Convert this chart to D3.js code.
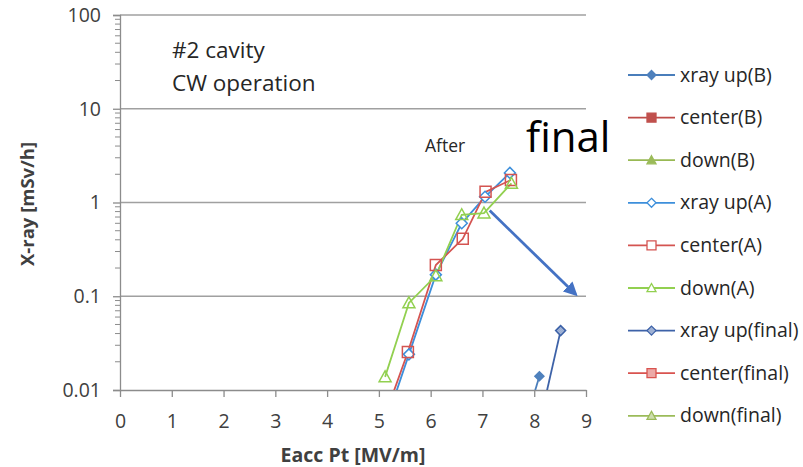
<!DOCTYPE html>
<html><head><meta charset="utf-8">
<script src="https://cdn.jsdelivr.net/npm/d3@7"></script>
<style>body{margin:0;background:#fff}svg{display:block;font-family:"Open Sans",Lato,sans-serif;font-variant-ligatures:none}</style>
</head><body><svg id="c" width="803" height="467"></svg>
<script>
// ---- data ----
const xTicks = [0,1,2,3,4,5,6,7,8,9];
const yTicks = [0.01,0.1,1,10,100];
const yTickLabels = ["0.01","0.1","1","10","100"];
const seriesNames = ["xray up(B)","center(B)","down(B)","xray up(A)","center(A)","down(A)","xray up(final)","center(final)","down(final)"];
const xrayUpB_x = [7.9, 8.1];
const xrayUpB_y = [0.006, 0.014];
const centerB_x = [];
const centerB_y = [];
const downB_x = [];
const downB_y = [];
const xrayUpA_x = [5.0, 5.58, 6.1, 6.6, 7.05, 7.53];
const xrayUpA_y = [0.0027, 0.024, 0.17, 0.6, 1.15, 2.07];
const centerA_x = [5.0, 5.56, 6.1, 6.62, 7.06, 7.55];
const centerA_y = [0.0035, 0.0254, 0.215, 0.41, 1.3, 1.74];
const downA_x = [5.12, 5.58, 6.1, 6.6, 7.03, 7.56];
const downA_y = [0.0138, 0.085, 0.165, 0.74, 0.77, 1.6];
const xrayUpF_x = [8.2, 8.51];
const xrayUpF_y = [0.0076, 0.043];
const centerF_x = [];
const centerF_y = [];
const downF_x = [];
const downF_y = [];

const svg = d3.select("#c");
const x = d3.scaleLinear().domain([0,9]).range([120,586]);
const y = d3.scaleLog().domain([0.01,100]).range([390,15]);

// patterns
const defs = svg.append("defs");
function checker(id, c){
  const p = defs.append("pattern").attr("id",id).attr("width",2).attr("height",2).attr("patternUnits","userSpaceOnUse");
  p.append("rect").attr("width",2).attr("height",2).attr("fill","#fff");
  p.append("rect").attr("width",1).attr("height",1).attr("fill",c);
  p.append("rect").attr("x",1).attr("y",1).attr("width",1).attr("height",1).attr("fill",c);
}
checker("chkB","#3d62a8");
checker("chkR","#d9534f");
checker("chkG","#9bbb59");
defs.append("clipPath").attr("id","clip").append("rect").attr("x",120).attr("y",10).attr("width",470).attr("height",380);
defs.append("marker").attr("id","arr").attr("viewBox","0 0 10 10").attr("refX",8).attr("refY",5)
  .attr("markerWidth",5).attr("markerHeight",5).attr("orient","auto")
  .append("path").attr("d","M0,0L10,5L0,10z").attr("fill","#4472c4");

// gridlines
const gridVals = [0.1,1,10,100];
svg.append("g").selectAll("line").data(gridVals).join("line")
  .attr("x1",120).attr("x2",586).attr("y1",d=>y(d)).attr("y2",d=>y(d))
  .attr("stroke","#a0a0a0").attr("stroke-width",1.5);

// y axis
const minor = [];
for (let e=-2;e<2;e++) for (let k=2;k<=9;k++) minor.push(k*Math.pow(10,e));
const ya = svg.append("g").attr("transform","translate(120,0)")
  .call(d3.axisLeft(y).tickValues(yTicks).tickFormat((d,i)=>yTickLabels[i]).tickSize(7).tickPadding(12));
ya.select(".domain").attr("stroke","#8c8c8c").attr("stroke-width",1.3);
ya.selectAll(".tick line").attr("stroke","#8c8c8c").attr("stroke-width",1.3);
ya.selectAll("text").attr("fill","#404040").style("font-size","19.5px").style("font-family","Open Sans");
svg.append("g").selectAll("line").data(minor).join("line")
  .attr("x1",115).attr("x2",120).attr("y1",d=>y(d)).attr("y2",d=>y(d))
  .attr("stroke","#8c8c8c").attr("stroke-width",1);

// x axis
const xa = svg.append("g").attr("transform","translate(0,390)")
  .call(d3.axisBottom(x).tickValues(xTicks).tickFormat(d3.format("d")).tickSize(7).tickSizeOuter(0).tickPadding(17));
xa.select(".domain").attr("stroke","#8c8c8c").attr("stroke-width",1.3);
xa.selectAll(".tick line").attr("stroke","#8c8c8c").attr("stroke-width",1.3);
xa.selectAll("text").attr("fill","#404040").style("font-size","19.5px").style("font-family","Open Sans");

// axis titles
svg.append("text").attr("x",353).attr("y",462).attr("text-anchor","middle")
  .style("font-size","19.5px").style("font-weight","bold").attr("fill","#404040").text("Eacc Pt [MV/m]");
svg.append("text").attr("transform","translate(34,204) rotate(-90)").attr("text-anchor","middle")
  .style("font-size","18.5px").style("font-weight","bold").attr("fill","#404040").text("X-ray [mSv/h]");

// series
const series = [
  {xs:xrayUpB_x, ys:xrayUpB_y, line:"#4a7ebb", shape:"diamond", fill:"#4f81bd", stroke:"#4f81bd", size:9},
  {xs:centerB_x, ys:centerB_y, line:"#be4b48", shape:"square", fill:"#c0504d", stroke:"#c0504d", size:9},
  {xs:downB_x, ys:downB_y, line:"#98b954", shape:"triangle", fill:"#9bbb59", stroke:"#9bbb59", size:9},
  {xs:xrayUpA_x, ys:xrayUpA_y, line:"#3d8fdb", shape:"diamond", fill:"#fff", stroke:"#3d8fdb", size:11},
  {xs:centerA_x, ys:centerA_y, line:"#d45451", shape:"square", fill:"none", stroke:"#d45451", size:11},
  {xs:downA_x, ys:downA_y, line:"#92d050", shape:"triangle", fill:"none", stroke:"#92d050", size:12},
  {xs:xrayUpF_x, ys:xrayUpF_y, line:"#3d62a8", shape:"diamond", fill:"url(#chkB)", stroke:"#3d62a8", size:10},
  {xs:centerF_x, ys:centerF_y, line:"#d9534f", shape:"square", fill:"url(#chkR)", stroke:"#d9534f", size:9},
  {xs:downF_x, ys:downF_y, line:"#9bbb59", shape:"triangle", fill:"url(#chkG)", stroke:"#9bbb59", size:9}
];
function shapePath(shape, s){
  const h=s/2;
  if(shape==="diamond") return `M0,${-h}L${h},0L0,${h}L${-h},0Z`;
  if(shape==="square") return `M${-h},${-h}H${h}V${h}H${-h}Z`;
  return `M0,${-h}L${h},${h*0.8}L${-h},${h*0.8}Z`;
}
const plot = svg.append("g").attr("clip-path","url(#clip)");
const lineGen = d3.line().x(d=>x(d[0])).y(d=>y(d[1]));
series.forEach(s=>{
  const pts = s.xs.map((v,i)=>[v,s.ys[i]]);
  if(!pts.length) return;
  plot.append("path").datum(pts).attr("d",lineGen).attr("fill","none")
    .attr("stroke",s.line).attr("stroke-width",1.8);
});
series.forEach(s=>{
  const pts = s.xs.map((v,i)=>[v,s.ys[i]]).filter(d=>d[1]>=0.01);
  plot.append("g").selectAll("path").data(pts).join("path")
    .attr("transform",d=>`translate(${x(d[0])},${y(d[1])})`)
    .attr("d",shapePath(s.shape,s.size)).attr("fill",s.fill).attr("stroke",s.stroke).attr("stroke-width",1.5);
});

// arrow
svg.append("line").attr("x1",x(7.14)).attr("y1",y(0.82)).attr("x2",x(8.8)).attr("y2",y(0.105))
  .attr("stroke","#4472c4").attr("stroke-width",2.8).attr("marker-end","url(#arr)");

// annotations
svg.append("text").attr("x",172).attr("y",58).style("font-size","22.5px").attr("fill","#262626").text("#2 cavity");
svg.append("text").attr("x",172).attr("y",91).style("font-size","22.5px").attr("fill","#262626").text("CW operation");
svg.append("text").attr("x",425).attr("y",152).style("font-size","17.5px").attr("fill","#262626").text("After");
svg.append("text").attr("x",526).attr("y",152).style("font-size","42px").attr("fill","#000").text("final");

// legend
const lg = svg.append("g");
series.forEach((s,i)=>{
  const cy = 75 + i*42.6;
  lg.append("line").attr("x1",628).attr("x2",675).attr("y1",cy).attr("y2",cy).attr("stroke",s.line).attr("stroke-width",1.8);
  lg.append("path").attr("transform",`translate(651.5,${cy})`).attr("d",shapePath(s.shape,9))
    .attr("fill",s.fill==="none"?"#fff":s.fill).attr("stroke",s.stroke).attr("stroke-width",1.3);
  lg.append("text").attr("x",680).attr("y",cy+6.5).style("font-size","19.5px").attr("fill","#262626").text(seriesNames[i]);
});
</script></body></html>
